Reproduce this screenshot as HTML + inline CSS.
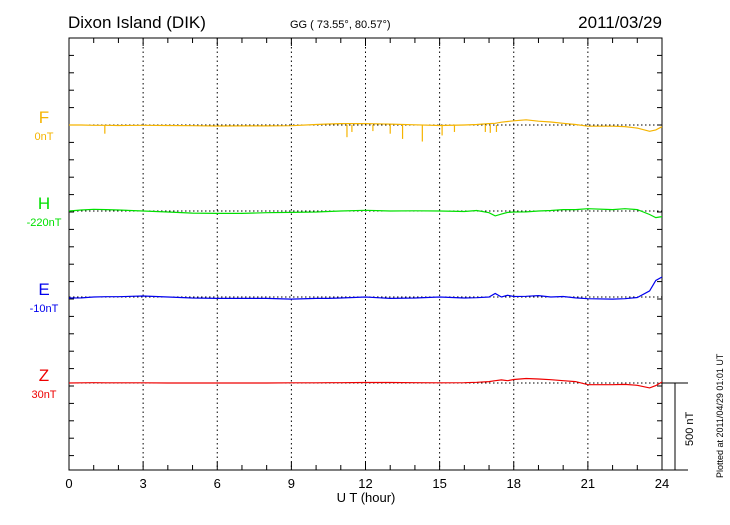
<!DOCTYPE html>
<html><head><meta charset="utf-8"><style>
body{margin:0;background:#fff;}
svg text{font-family:"Liberation Sans",sans-serif;}
</style></head><body>
<svg id="chart" width="730" height="520" viewBox="0 0 730 520" xmlns="http://www.w3.org/2000/svg">
<text x="68" y="28" font-size="17">Dixon Island (DIK)</text>
<text x="290" y="28" font-size="11">GG ( 73.55°,  80.57°)</text>
<text x="662" y="28" font-size="17" text-anchor="end">2011/03/29</text>
<text x="366" y="502" font-size="13" text-anchor="middle">U T (hour)</text>
<text transform="translate(723,478) rotate(-90)" font-size="9">Plotted at 2011/04/29 01:01  UT</text>
<g id="grid"></g><g id="axes"></g><g id="series"></g>
</svg>
<script>
const ticks=[0,3,6,9,12,15,18,21,24];
const comps=["F","H","E","Z"];
const offsets=["0nT","-220nT","-10nT","30nT"];
const colors=["#f5b400","#00e000","#0000ee","#ee0000"];
const hours=[0,0.5,1,1.5,2,3,4,5,6,7,8,9,10,10.5,11,12,13,14,15,16,16.5,17,17.25,17.5,17.75,18,18.5,19,19.5,20,20.5,21,22,22.5,23,23.5,23.75,24];
const fVals=[0,0,-2,-2,-3,-2,-3,-4,-6,-5,-5,-4,3,6,8,8,5,1,-3,0,3,8,10,16,20,24,30,22,17,10,3,-7,-7,-9,-18,-36,-28,-10];
const hVals=[0,6,10,8,6,0,-6,-12,-14,-14,-10,-8,-6,-3,0,4,0,1,0,-3,3,-10,-28,-18,-8,-6,-5,0,3,8,8,13,8,13,8,-20,-38,-32];
const eVals=[-6,-5,0,2,2,6,0,-6,-8,-8,-8,-12,-8,-8,-6,0,-8,-6,0,-6,-4,0,20,0,10,3,4,8,0,3,-5,-10,-12,-10,-3,35,95,115];
const zVals=[0,1,2,1,1,1,0,0,0,0,0,1,1,2,2,3,3,2,1,2,4,8,13,18,13,20,26,23,19,13,8,-10,-10,-8,-13,-28,-15,6];
const series=[fVals,hVals,eVals,zVals];
const spikeHours=[1.45,11.25,11.45,12.3,13.0,13.5,14.3,15.1,15.6,16.85,17.05,17.3];
const spikeDepth=[50,70,40,35,50,80,95,60,40,40,45,40];
const X0=69,X1=662,Y0=38,Y1=470,pxPerNT=87/500;
const baselines=[125,211,297,383];
const xs=h=>X0+(X1-X0)*h/24;
const ys=(i,v)=>baselines[i]-v*pxPerNT;
const NS="http://www.w3.org/2000/svg";
function mk(t,a,p){const e=document.createElementNS(NS,t);for(const k in a)e.setAttribute(k,a[k]);p.appendChild(e);return e;}
const grid=document.getElementById('grid'),axes=document.getElementById('axes'),ser=document.getElementById('series');
ticks.forEach((t,i)=>{
 if(i>0&&i<ticks.length-1){const l=mk('line',{x1:xs(t),x2:xs(t),y1:Y0,y2:Y1,stroke:'#000','stroke-width':1,'stroke-dasharray':'1.5,3'},grid);
 
 }
 const tx=mk('text',{x:xs(t),y:488,'font-size':13,'text-anchor':'middle'},axes);tx.textContent=t;
 
 
});
for(let h=0;h<=24;h++){const major=h%3===0;
 mk('line',{x1:xs(h),x2:xs(h),y1:Y0,y2:Y0+(major?8:5),stroke:'#000'},axes);
 mk('line',{x1:xs(h),x2:xs(h),y1:Y1,y2:Y1-(major?8:5),stroke:'#000'},axes);}
for(let y=Y0;y<=Y1+0.5;y+=87/5){mk('line',{x1:X0,x2:X0+5,y1:y,y2:y,stroke:'#000'},axes);mk('line',{x1:X1,x2:X1-5,y1:y,y2:y,stroke:'#000'},axes);}
const fr=mk('rect',{x:X0,y:Y0,width:X1-X0,height:Y1-Y0,fill:'none',stroke:'#000'},axes);


mk('line',{x1:X1,x2:688,y1:383,y2:383,stroke:'#000'},axes);
mk('line',{x1:X1,x2:688,y1:470,y2:470,stroke:'#000'},axes);
const sb=mk('line',{x1:675,x2:675,y1:383,y2:470,stroke:'#000'},axes);


const st=mk('text',{transform:'translate(693,446) rotate(-90)','font-size':11},axes);st.textContent='500 nT';


comps.forEach((c,i)=>{
 const b=baselines[i];
 const bl=mk('line',{x1:X0,x2:X1,y1:b,y2:b,stroke:'#000','stroke-dasharray':'1.5,2.5'},grid);
 
 
 const lt=mk('text',{x:44,y:b-2,'font-size':17,fill:colors[i],'text-anchor':'middle'},axes);lt.textContent=c;
 
 
 const ot=mk('text',{x:44,y:b+15,'font-size':11,fill:colors[i],'text-anchor':'middle'},axes);ot.textContent=offsets[i];
 
 
 const d=hours.map((h,j)=>(j?'L':'M')+xs(h).toFixed(1)+','+ys(i,series[i][j]).toFixed(1)).join('');
 const p=mk('path',{d:d,fill:'none',stroke:colors[i],'stroke-width':1.2},ser);
 
 
});
spikeHours.forEach((h,j)=>{
 const l=mk('line',{x1:xs(h),x2:xs(h),y1:ys(0,0),y2:ys(0,-spikeDepth[j]),stroke:colors[0],'stroke-width':1.2},ser);
 
 
});
</script>
</body></html>
